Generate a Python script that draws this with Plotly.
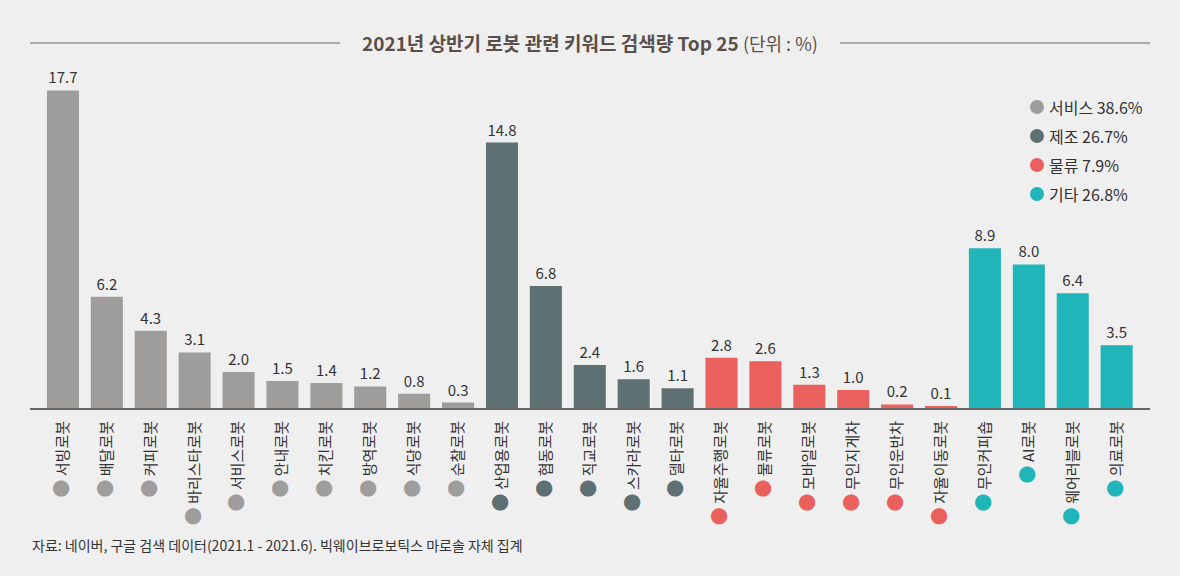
import plotly.graph_objects as go

categories = ["서빙로봇", "배달로봇", "커피로봇", "바리스타로봇", "서비스로봇", "안내로봇", "치킨로봇",
              "방역로봇", "식당로봇", "순찰로봇", "산업용로봇", "협동로봇", "직교로봇", "스카라로봇",
              "델타로봇", "자율주행로봇", "물류로봇", "모바일로봇", "무인지게차", "무인운반차",
              "자율이동로봇", "무인커피숍", "AI로봇", "웨어러블로봇", "의료로봇"]
values = [17.7, 6.2, 4.3, 3.1, 2.0, 1.5, 1.4, 1.2, 0.8, 0.3,
          14.8, 6.8, 2.4, 1.6, 1.1,
          2.8, 2.6, 1.3, 1.0, 0.2, 0.1,
          8.9, 8.0, 6.4, 3.5]
groups = ["서비스"] * 10 + ["제조"] * 5 + ["물류"] * 6 + ["기타"] * 4
group_names = ["서비스", "제조", "물류", "기타"]
group_shares = [38.6, 26.7, 7.9, 26.8]
group_colors = {"서비스": "#9e9d9b", "제조": "#5f7072", "물류": "#e9605d", "기타": "#1fb5b9"}

FONT = "Noto Sans CJK KR"
W, H = 1180, 576
ML, MR, MT, MB = 30, 30, 60, 168
PW, PH = W - ML - MR, H - MT - MB

bar_colors = [group_colors[g] for g in groups]
xpos = list(range(len(categories)))
ticktext = [f'<span style="font-size:18px;color:{group_colors[g]}">●</span> {c}'
            for c, g in zip(categories, groups)]

fig = go.Figure()
fig.add_trace(go.Bar(
    x=xpos, y=values, marker=dict(color=bar_colors, line=dict(width=0)),
    width=0.73, text=[f"{v:.1f}" for v in values], textposition="outside",
    textfont=dict(family=FONT, size=15, color="#333333"), cliponaxis=False,
    showlegend=False, hoverinfo="x+y"))

line_y = 1 + (MT - 43) / PH
shapes = [
    dict(type="line", xref="paper", yref="paper", x0=0, x1=(340 - ML) / PW, y0=line_y, y1=line_y,
         line=dict(color="#666666", width=1)),
    dict(type="line", xref="paper", yref="paper", x0=(840 - ML) / PW, x1=1, y0=line_y, y1=line_y,
         line=dict(color="#666666", width=1)),
]
annotations = [
    dict(text="<b>2021년 상반기 로봇 관련 키워드 검색량 Top 25</b> <span style='font-size:18px'>(단위 : %)</span>",
         x=0.5, y=line_y, xref="paper", yref="paper", yanchor="middle",
         showarrow=False, font=dict(family=FONT, size=19, color="#5b4f4a")),
    dict(text="자료: 네이버, 구글 검색 데이터(2021.1 - 2021.6). 빅웨이브로보틱스 마로솔 자체 집계",
         x=0, y=(H - MB - 545) / PH, xref="paper", yref="paper", xanchor="left", yanchor="middle",
         showarrow=False, font=dict(family=FONT, size=14, color="#333333")),
]
# legend: circle + label per category group
for i, (name, share) in enumerate(zip(group_names, group_shares)):
    cy = 1 - (107 + 29 * i - MT) / PH
    cx = (1037 - ML) / PW
    shapes.append(dict(type="circle", xref="paper", yref="paper", xsizemode="pixel", ysizemode="pixel",
                       xanchor=cx, yanchor=cy, x0=-7, x1=7, y0=-7, y1=7,
                       fillcolor=group_colors[name], line=dict(width=0)))
    annotations.append(dict(text=f"{name} {share}%", x=(1047 - ML) / PW, y=cy, xref="paper", yref="paper",
                            xanchor="left", yanchor="middle", showarrow=False,
                            font=dict(family=FONT, size=16, color="#333333")))

fig.update_layout(
    width=W, height=H,
    paper_bgcolor="#efefef", plot_bgcolor="#efefef",
    margin=dict(l=ML, r=MR, t=MT, b=MB),
    font=dict(family=FONT, color="#333333"),
    showlegend=False,
    xaxis=dict(range=[-0.75, 24.76], tickmode="array", tickvals=xpos, ticktext=ticktext,
               tickangle=-90, tickfont=dict(family=FONT, size=15, color="#333333"),
               ticklabelstandoff=5,
               showgrid=False, zeroline=False, showline=True, linecolor="#666666",
               linewidth=2, ticks="", fixedrange=True),
    yaxis=dict(range=[0, 19.4], visible=False, showgrid=False, zeroline=False),
    annotations=annotations,
    shapes=shapes,
)

fig.write_html("out.html", config={"displayModeBar": False},
               post_script="document.body.style.margin='0';document.body.style.background='#efefef';")
